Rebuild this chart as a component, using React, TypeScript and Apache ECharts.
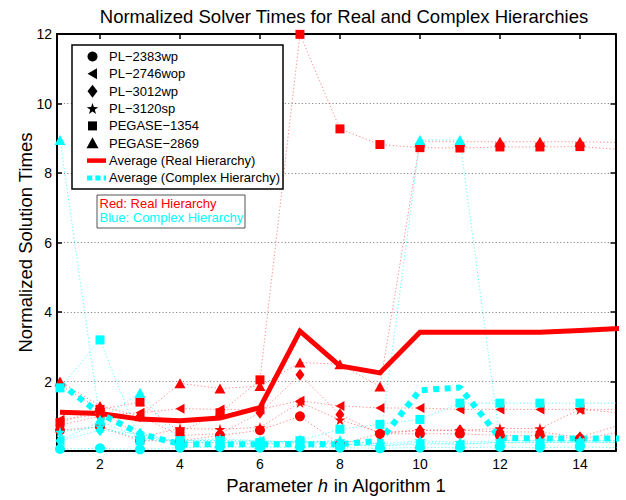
import React, { useEffect, useRef } from "react";
import * as echarts from "echarts";

// ---------- data ----------
const xValues = [1, 2, 3, 4, 5, 6, 7, 8, 9, 10, 11, 12, 13, 14, 15];
const xTickLabels = [2, 4, 6, 8, 10, 12, 14];
const yTickLabels = [2, 4, 6, 8, 10, 12];
const caseNames = ["PL\u22122383wp", "PL\u22122746wop", "PL\u22123012wp", "PL\u22123120sp", "PEGASE\u22121354", "PEGASE\u22122869"];
const avgNames = ["Average (Real Hierarchy)", "Average (Complex Hierarchy)"];
const noteLines = ["Red: Real Hierarchy", "Blue: Complex Hierarchy"];

// Real hierarchy (red)
const realPL2383wp = [0.6, 0.7, 0.3, 0.3, 0.45, 0.6, 1.0, 0.2, 0.5, 0.5, 0.5, 0.45, 0.45, 0.35, 0.55];
const realPL2746wop = [0.9, 1.05, 1.1, 1.22, 1.2, 1.2, 1.45, 1.3, 1.24, 1.24, 1.2, 1.2, 1.2, 1.2, 1.2];
const realPL3012wp = [0.75, 1.0, 1.0, 0.45, 0.5, 1.1, 2.2, 1.05, 0.5, 0.6, 0.6, 0.55, 0.55, 0.4, 0.75];
const realPL3120sp = [1.9, 1.2, 0.4, 0.65, 0.63, 0.68, 1.4, 0.9, 0.54, 0.6, 0.6, 0.65, 0.65, 1.2, 1.1];
const realPEGASE1354 = [0.82, 1.2, 1.41, 0.55, 1.1, 2.05, 11.99, 9.27, 8.82, 8.73, 8.72, 8.75, 8.75, 8.76, 8.68];
const realPEGASE2869 = [2.0, 1.3, 1.0, 1.95, 1.8, 1.87, 2.55, 2.5, 1.86, 8.9, 8.9, 8.9, 8.9, 8.9, 8.88];

// Complex hierarchy (cyan)
const cplxPL2383wp = [0.06, 0.08, 0.05, 0.1, 0.12, 0.1, 0.12, 0.1, 0.08, 0.1, 0.1, 0.12, 0.1, 0.12, 0.1];
const cplxPL2746wop = [0.3, 0.85, 0.4, 0.3, 0.3, 0.3, 0.25, 0.2, 0.15, 0.2, 0.2, 0.25, 0.25, 0.25, 0.25];
const cplxPL3012wp = [0.3, 0.6, 0.5, 0.25, 0.25, 0.2, 0.3, 0.2, 0.15, 0.25, 0.2, 0.25, 0.25, 0.25, 0.25];
const cplxPL3120sp = [0.55, 0.7, 0.35, 0.3, 0.35, 0.3, 0.25, 0.3, 0.2, 0.3, 0.25, 0.3, 0.3, 0.3, 0.3];
const cplxPEGASE1354 = [1.82, 3.2, 0.3, 0.3, 0.3, 0.25, 0.3, 0.63, 0.77, 0.91, 1.38, 1.38, 1.38, 1.38, 1.38];
const cplxPEGASE2869 = [8.95, 0.9, 1.68, 0.25, 0.25, 0.2, 0.25, 0.3, 0.2, 8.95, 8.95, 0.3, 0.3, 0.3, 0.3];

// Averages
const avgReal = [1.12, 1.08, 0.92, 0.87, 0.95, 1.25, 3.45, 2.45, 2.25, 3.42, 3.42, 3.42, 3.42, 3.47, 3.53];
const avgComplex = [1.95, 1.08, 0.5, 0.2, 0.2, 0.2, 0.2, 0.2, 0.3, 1.75, 1.83, 0.38, 0.36, 0.36, 0.36];

// ---------- styles ----------
const FONT = "'Liberation Sans', Arial, Helvetica, sans-serif";
const RED = "#ff0000";
const CYAN = "#00ffff";
const RED_THIN = "rgba(255,0,0,0.45)";
const CYAN_THIN = "rgba(0,255,255,0.6)";
const STAR = "path://M50,0L61.2,34.5L97.6,34.5L68.2,55.9L79.4,90.5L50,69.1L20.6,90.5L31.8,55.9L2.4,34.5L38.8,34.5Z";
const LEFT_TRI = "path://M0,50L100,0L100,100Z";
const symbols: any[] = [
  { symbol: "circle", size: 10 },
  { symbol: LEFT_TRI, size: [9, 10] },
  { symbol: "diamond", size: [9, 12] },
  { symbol: STAR, size: [11, 11] },
  { symbol: "rect", size: 9 },
  { symbol: "triangle", size: [11, 10] },
];

const realData = [realPL2383wp, realPL2746wop, realPL3012wp, realPL3120sp, realPEGASE1354, realPEGASE2869];
const cplxData = [cplxPL2383wp, cplxPL2746wop, cplxPL3012wp, cplxPL3120sp, cplxPEGASE1354, cplxPEGASE2869];

const toPairs = (vals: number[]) => xValues.map((x, i) => [x, vals[i]]);

function markerSeries(name: string, vals: number[], idx: number, color: string, lineColor: string) {
  return {
    type: "line",
    name,
    data: toPairs(vals),
    symbol: symbols[idx].symbol,
    symbolSize: symbols[idx].size,
    showSymbol: true,
    showAllSymbol: true,
    clip: true,
    silent: true,
    itemStyle: { color, borderWidth: 0 },
    lineStyle: { color: lineColor, width: 1, type: [1.3, 2.2] },
  };
}

function starPoints(cx: number, cy: number, ro: number, ri: number) {
  const pts: number[][] = [];
  for (let k = 0; k < 10; k++) {
    const r = k % 2 === 0 ? ro : ri;
    const a = ((-90 + 36 * k) * Math.PI) / 180;
    pts.push([cx + r * Math.cos(a), cy + r * Math.sin(a)]);
  }
  return pts;
}

function legendMarker(i: number, cx: number, cy: number) {
  const style = { fill: "#000" };
  switch (i) {
    case 0:
      return { type: "circle", shape: { cx, cy, r: 5 }, style };
    case 1:
      return { type: "polygon", shape: { points: [[cx - 5, cy], [cx + 4.5, cy - 5.5], [cx + 4.5, cy + 5.5]] }, style };
    case 2:
      return { type: "polygon", shape: { points: [[cx, cy - 6.5], [cx + 5, cy], [cx, cy + 6.5], [cx - 5, cy]] }, style };
    case 3:
      return { type: "polygon", shape: { points: starPoints(cx, cy + 0.5, 6, 2.4) }, style };
    case 4:
      return { type: "rect", shape: { x: cx - 4.5, y: cy - 4.5, width: 9, height: 9 }, style };
    default:
      return { type: "polygon", shape: { points: [[cx, cy - 6], [cx + 6, cy + 5], [cx - 6, cy + 5]] }, style };
  }
}

function buildGraphic() {
  const els: any[] = [];
  const bx = 72, by = 45, bw = 211, bh = 144;
  els.push({ type: "rect", shape: { x: bx, y: by, width: bw, height: bh }, style: { fill: "#fff", stroke: "#000", lineWidth: 1.5 }, z: 100 });
  const rowY0 = 56.5, rowStep = 17.35, mx = 92.5, tx = 109;
  caseNames.forEach((n, i) => {
    const cy = rowY0 + i * rowStep;
    els.push({ ...legendMarker(i, mx, cy), z: 101 });
    els.push({ type: "text", x: tx, y: cy, style: { text: n, fontSize: 13, fontFamily: FONT, fill: "#000", verticalAlign: "middle", align: "left" }, z: 101 });
  });
  const ry = rowY0 + 6 * rowStep;
  const cyy = rowY0 + 7 * rowStep;
  els.push({ type: "line", shape: { x1: 87, y1: ry, x2: 106, y2: ry }, style: { stroke: RED, lineWidth: 4.5 }, z: 101 });
  els.push({ type: "text", x: tx, y: ry, style: { text: avgNames[0], fontSize: 13, fontFamily: FONT, fill: "#000", verticalAlign: "middle" }, z: 101 });
  els.push({ type: "line", shape: { x1: 87, y1: cyy, x2: 106, y2: cyy }, style: { stroke: CYAN, lineWidth: 5, lineDash: [5.3, 3], lineCap: "butt" }, z: 101 });
  els.push({ type: "text", x: tx, y: cyy, style: { text: avgNames[1], fontSize: 13, fontFamily: FONT, fill: "#000", verticalAlign: "middle" }, z: 101 });

  // note box
  els.push({ type: "rect", shape: { x: 97, y: 195, width: 148, height: 33 }, style: { fill: "#fff", stroke: "#555", lineWidth: 1 }, z: 100 });
  els.push({ type: "text", x: 99.5, y: 203.6, style: { text: noteLines[0], fontSize: 13, fontFamily: FONT, fill: RED, verticalAlign: "middle" }, z: 101 });
  els.push({ type: "text", x: 99.5, y: 217.8, style: { text: noteLines[1], fontSize: 13, fontFamily: FONT, fill: CYAN, verticalAlign: "middle" }, z: 101 });
  return els;
}

export default function App() {
  const ref = useRef<HTMLDivElement>(null);
  useEffect(() => {
    if (!ref.current) return;
    const chart = echarts.init(ref.current, null, { renderer: "svg" });
    const series: any[] = [];
    realData.forEach((d, i) => series.push(markerSeries(caseNames[i] + " (real)", d, i, RED, RED_THIN)));
    cplxData.forEach((d, i) => series.push(markerSeries(caseNames[i] + " (complex)", d, i, CYAN, CYAN_THIN)));
    series.push({
      type: "line", name: avgNames[0], data: toPairs(avgReal), symbol: "none", clip: true, silent: true,
      lineStyle: { color: RED, width: 5, join: "miter" },
    });
    series.push({
      type: "line", name: avgNames[1], data: toPairs(avgComplex), symbol: "none", clip: true, silent: true,
      lineStyle: { color: CYAN, width: 6, type: [6, 5.5], cap: "butt" },
    });

    const xMin = 0.925, xMax = 14.89;
    const axisLineStyle = { color: "#000", width: 2 };
    chart.setOption({
      animation: false,
      backgroundColor: "#fff",
      title: {
        text: "Normalized Solver Times for Real and Complex Hierarchies",
        left: 339, top: 2, textAlign: "center",
        textStyle: { fontSize: 18.5, fontWeight: "normal", color: "#000", fontFamily: FONT },
      },
      grid: { left: 57, right: 10.5, top: 34, bottom: 41, containLabel: false },
      xAxis: [
        {
          type: "value", min: xMin, max: xMax, position: "bottom",
          name: "{n|Parameter }{i|h}{n| in Algorithm 1}", nameLocation: "middle", nameGap: 16,
          nameTextStyle: {
            rich: {
              n: { fontSize: 18.5, fontFamily: FONT, color: "#000" },
              i: { fontSize: 18.5, fontFamily: FONT, color: "#000", fontStyle: "italic" },
            },
          },
          axisLine: { show: true, onZero: false, lineStyle: axisLineStyle },
          axisTick: { show: true, inside: true, length: 5, lineStyle: { color: "#000", width: 1.5 }, customValues: xTickLabels },
          axisLabel: { show: true, color: "#000", fontSize: 14, fontFamily: FONT, margin: 6, customValues: xTickLabels },
          splitLine: { show: false },
        },
        {
          type: "value", min: xMin, max: xMax, position: "top",
          axisLine: { show: true, onZero: false, lineStyle: axisLineStyle },
          axisTick: { show: true, inside: true, length: 5, lineStyle: { color: "#000", width: 1.5 }, customValues: xTickLabels },
          axisLabel: { show: false },
          splitLine: { show: false },
        },
      ],
      yAxis: [
        {
          type: "value", min: 0, max: 12, interval: 2, position: "left",
          name: "Normalized Solution Times", nameLocation: "middle", nameGap: 22, nameMoveOverlap: false,
          nameTextStyle: { fontSize: 18.5, fontFamily: FONT, color: "#000" },
          axisLine: { show: true, onZero: false, lineStyle: axisLineStyle },
          axisTick: { show: true, inside: true, length: 5, lineStyle: { color: "#000", width: 1.5 }, customValues: yTickLabels },
          axisLabel: { show: true, color: "#000", fontSize: 14, fontFamily: FONT, margin: 5, customValues: yTickLabels },
          splitLine: { show: true, lineStyle: { color: "#8a8a8a", width: 1, type: [1.2, 2.2] } },
        },
        {
          type: "value", min: 0, max: 12, interval: 2, position: "right",
          axisLine: { show: true, onZero: false, lineStyle: axisLineStyle },
          axisTick: { show: true, inside: true, length: 5, lineStyle: { color: "#000", width: 1.5 }, customValues: yTickLabels },
          axisLabel: { show: false },
          splitLine: { show: false },
        },
      ],
      series,
      graphic: buildGraphic(),
    });
    return () => chart.dispose();
  }, []);
  return <div ref={ref} style={{ position: "fixed", left: 0, top: 0, width: 626, height: 500, background: "#fff" }} />;
}
